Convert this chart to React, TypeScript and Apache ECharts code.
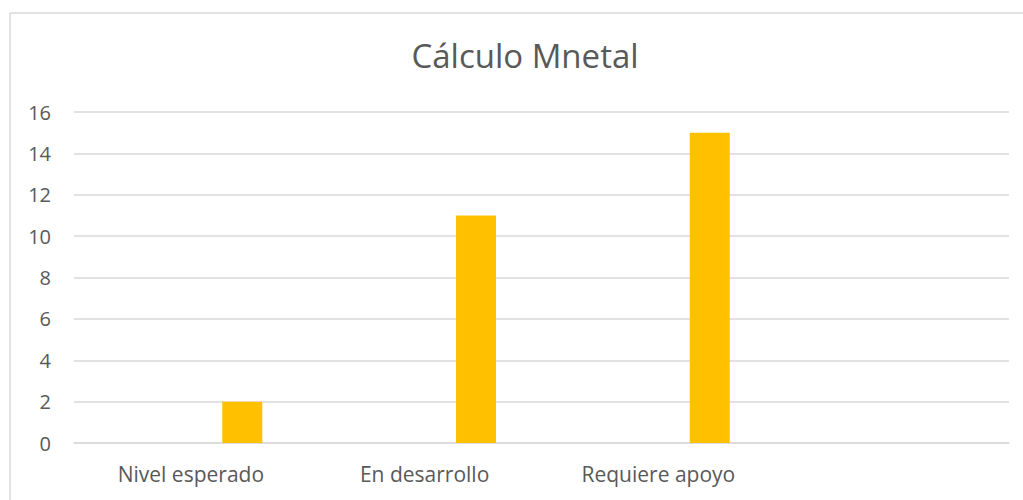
import React, { useEffect, useRef } from "react";
import * as echarts from "echarts";

const titleText = "Cálculo Mnetal";
const categories = ["Nivel esperado", "En desarrollo", "Requiere apoyo", ""];
const emptySeries = [null, null, null, null];
const values = [2, 11, 15, null];
const yTicks = { min: 0, max: 16, interval: 2 };

export default function App() {
  const ref = useRef<HTMLDivElement>(null);
  useEffect(() => {
    document.body.style.margin = "0";
    const chart = echarts.init(ref.current!, null, { renderer: "svg" });
    const font = "'Open Sans', 'Noto Sans', sans-serif";
    chart.setOption({
      animation: false,
      backgroundColor: "#ffffff",
      title: {
        text: titleText,
        left: 520,
        textAlign: "center",
        top: 34,
        textStyle: { color: "#595959", fontSize: 33, fontWeight: "normal", fontFamily: font },
      },
      grid: { left: 74, right: 14, top: 112, bottom: 57, containLabel: false },
      xAxis: {
        type: "category",
        data: categories,
        axisLine: { show: true, lineStyle: { color: "#d9d9d9", width: 1.5 } },
        axisTick: { show: false },
        axisLabel: { color: "#595959", fontSize: 21, fontFamily: font, margin: 20, interval: 0 },
      },
      yAxis: {
        type: "value",
        min: yTicks.min,
        max: yTicks.max,
        interval: yTicks.interval,
        axisLine: { show: false },
        axisTick: { show: false },
        splitLine: { lineStyle: { color: "#d9d9d9", width: 1.5 } },
        axisLabel: { color: "#595959", fontSize: 20, fontFamily: font, margin: 23 },
      },
      graphic: [
        { type: "line", shape: { x1: 10, y1: 13, x2: 10, y2: 500 }, style: { stroke: "#d9d9d9", lineWidth: 1.5 } },
        { type: "line", shape: { x1: 10, y1: 13, x2: 1023, y2: 13 }, style: { stroke: "#d9d9d9", lineWidth: 1.5 } },
      ],
      series: [
        { type: "bar", data: emptySeries, barWidth: 40, barGap: "157%" },
        { type: "bar", data: values, barWidth: 40, barGap: "157%", itemStyle: { color: "#FFC000" } },
      ],
    });
    return () => chart.dispose();
  }, []);
  return <div ref={ref} style={{ width: 1023, height: 500 }} />;
}
